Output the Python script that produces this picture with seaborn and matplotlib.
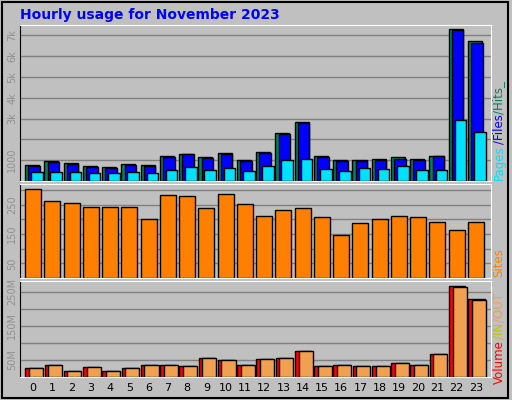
import numpy as np
import pandas as pd
import matplotlib
matplotlib.use("Agg")
import matplotlib.pyplot as plt
import seaborn as sns
from matplotlib.patches import Rectangle

hours = list(range(24))
hits = [780, 970, 870, 730, 680, 830, 780, 1210, 1300, 1160, 1350, 1020, 1400, 2300, 2830, 1210, 1020, 1020, 1060, 1160, 1060, 1210, 7300, 6730]
files = [730, 920, 820, 680, 640, 780, 730, 1160, 1300, 1110, 1300, 970, 1350, 2250, 2780, 1160, 970, 970, 1010, 1060, 1010, 1210, 7240, 6630]
pages = [440, 440, 440, 400, 400, 440, 400, 540, 680, 540, 630, 490, 730, 1020, 1060, 590, 490, 630, 590, 730, 540, 540, 2920, 2350]
sites = [302, 261, 255, 241, 241, 241, 200, 282, 278, 237, 285, 251, 210, 231, 237, 207, 145, 186, 200, 210, 207, 190, 162, 190]
volume = [27, 36, 19, 30, 19, 25, 36, 36, 33, 57, 51, 36, 54, 57, 77, 33, 36, 33, 33, 42, 36, 69, 266, 228]
vol_out = [27, 36, 19, 30, 19, 25, 36, 34, 33, 57, 49, 36, 52, 57, 77, 33, 34, 33, 31, 42, 36, 69, 264, 226]

BG = "#C0C0C0"
fig = plt.figure(figsize=(5.12, 4.0), dpi=100, facecolor=BG)
h = np.array(hours, dtype=float)

def panel(rect):
    ax = fig.add_axes(rect, facecolor=BG)
    ax.set_xlim(-0.68, 23.78)
    ax.grid(axis="y", color="#808080", lw=1)
    ax.set_axisbelow(True)
    for s in ax.spines.values():
        s.set_color("white")
    ax.spines["left"].set_color("black")
    ax.tick_params(axis="y", length=0, labelsize=7, labelcolor="#909090", labelrotation=90, pad=2)
    ax.tick_params(axis="x", length=0)
    return ax

def bars(ax, xs, ys, width, color):
    sns.barplot(x=xs, y=ys, native_scale=True, width=width, color=color,
                edgecolor="black", linewidth=1, ax=ax, saturation=1, orient="x")

ax1 = panel([0.039, 0.5475, 0.92, 0.39])
bars(ax1, h - 0.05, hits, 0.73, "#00805C")
bars(ax1, h + 0.05, files, 0.6, "#0000FF")
bars(ax1, h + 0.2, pages, 0.6, "#00E0FF")
ax1.set_ylim(0, 7500)
ax1.set_yticks(range(1000, 8000, 1000))
ax1.set_yticklabels(["1000", "", "3k", "4k", "5k", "6k", "7k"], va="center")
ax1.set_xticks([])

ax2 = panel([0.039, 0.305, 0.92, 0.235])
bars(ax2, h, sites, 0.83, "#FF8000")
ax2.set_ylim(0, 320)
ax2.set_yticks(range(50, 320, 50))
ax2.set_yticklabels(["50", "", "150", "", "250", ""], va="center")
ax2.set_xticks([])

ax3 = panel([0.039, 0.0575, 0.92, 0.24])
bars(ax3, h + 0.02, volume, 0.85, "#FF0000")
bars(ax3, h + 0.15, vol_out, 0.73, "#F0A050")
ax3.set_ylim(0, 282)
ax3.set_yticks(range(50, 280, 50))
ax3.set_yticklabels(["50M", "", "150M", "", "250M"], va="center")
ax3.set_xticks(hours)
ax3.set_xticklabels([str(x) for x in hours], fontsize=8)
ax3.tick_params(axis="x", pad=4)
for ax in (ax1, ax2, ax3):
    ax.set_xlabel(""); ax.set_ylabel("")

fig.text(20/512, 1 - 15/400, "Hourly usage for November 2023", color="#0000FF",
         fontsize=10, fontweight="bold", va="center", ha="left")

renderer = fig.canvas.get_renderer()
def vstack(y_px, parts):
    y = 1 - y_px / 400
    for s, c in parts:
        t = fig.text(499/512, y, s, color=c, rotation=90, fontsize=8.5,
                     ha="center", va="bottom")
        bb = t.get_window_extent(renderer)
        y += bb.height / 400 + 1/400

vstack(180, [("Pages", "#00E0FF"), ("/Files", "#0000FF"), ("/Hits_", "#00805C")])
vstack(277, [("Sites", "#FF8000")])
vstack(384, [("Volume", "#FF0000"), ("/IN", "#C0C000"), ("/OUT", "#F0A050")])

fig.patches.append(Rectangle((0.003, 0.005), 0.99, 0.99, transform=fig.transFigure,
                             fill=False, edgecolor="black", lw=1.5))
fig.savefig("out.png", dpi=100, facecolor=BG)
